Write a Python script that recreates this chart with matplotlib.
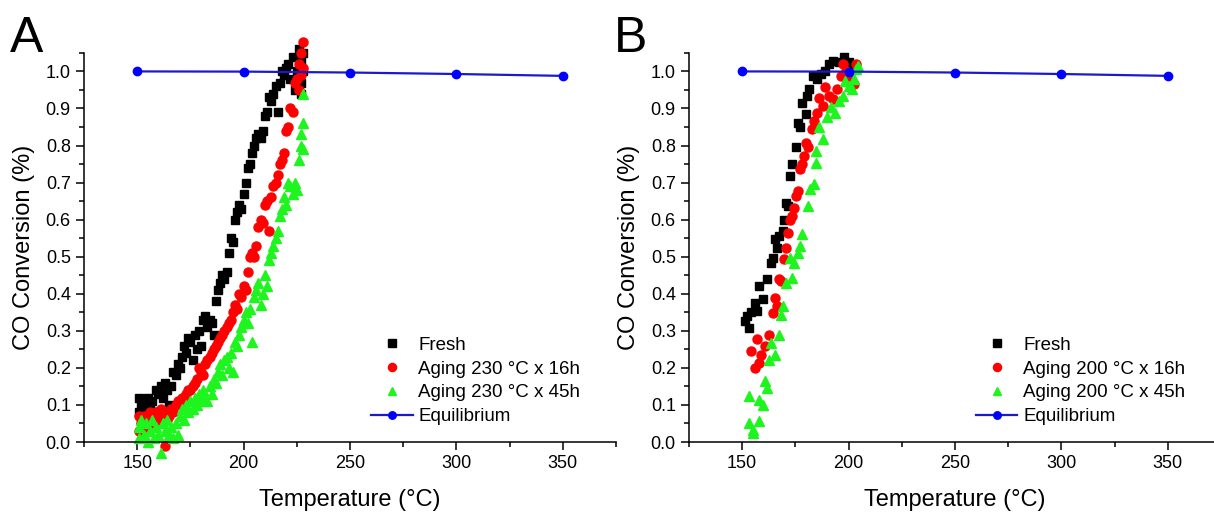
import matplotlib
matplotlib.use("Agg")
from matplotlib import pyplot as plt
from matplotlib.ticker import MultipleLocator

plt.rcParams['font.family'] = ['Liberation Sans', 'DejaVu Sans']

# equilibrium curve (same in both panels)
eq_temp = [150, 200, 250, 300, 350]
eq_conv = [1.0, 0.9995, 0.997, 0.993, 0.988]

# panel A
a_fresh_t = [151, 151, 152, 152, 153, 154, 155, 156, 157, 158, 159, 160, 161, 162, 163, 164, 165, 166,
             167, 168, 169, 170, 171, 172, 173, 174, 175, 176, 177, 178, 179, 180, 181, 182, 183, 184,
             185, 186, 187, 188, 189, 190, 191, 192, 193, 194, 195, 196, 197, 198, 199, 200, 201, 202,
             203, 204, 205, 206, 207, 208, 209, 210, 211, 212, 213, 214, 215, 216, 217, 218, 219, 220,
             221, 222, 223, 224, 225, 226, 227, 227, 227, 228, 228]
a_fresh_y = [0.12, 0.08, 0.10, 0.06, 0.11, 0.09, 0.12, 0.10, 0.11, 0.08, 0.14, 0.13, 0.15, 0.12, 0.16, 0.14, 0.10, 0.15,
             0.19, 0.18, 0.21, 0.20, 0.23, 0.26, 0.24, 0.28, 0.27, 0.22, 0.29, 0.25, 0.30, 0.26, 0.33, 0.34, 0.31, 0.33,
             0.32, 0.29, 0.38, 0.41, 0.43, 0.45, 0.44, 0.46, 0.51, 0.55, 0.54, 0.60, 0.62, 0.64, 0.63, 0.67, 0.70, 0.74,
             0.75, 0.78, 0.80, 0.82, 0.83, 0.82, 0.84, 0.88, 0.89, 0.93, 0.92, 0.94, 0.96, 0.89, 0.97, 1.00, 0.99, 1.01,
             1.02, 0.98, 1.04, 0.95, 1.00, 1.06, 0.97, 1.03, 0.94, 1.00, 1.05]
a_16h_t = [151, 151, 152, 153, 154, 155, 156, 157, 158, 159, 160, 161, 162, 163, 163, 164, 165, 166, 167, 168,
           169, 170, 171, 172, 173, 174, 175, 176, 177, 178, 179, 180, 181, 182, 183, 184, 185, 186, 187, 188,
           189, 190, 191, 192, 193, 194, 195, 196, 197, 198, 199, 200, 201, 202, 203, 204, 205, 206, 207, 208,
           209, 210, 211, 212, 213, 214, 215, 216, 217, 218, 219, 220, 221, 222, 223, 224, 225, 226, 226, 227,
           227, 228, 228]
a_16h_y = [0.07, 0.03, 0.05, 0.07, 0.04, 0.06, 0.08, 0.05, 0.07, 0.08, 0.06, 0.09, 0.07, -0.01, 0.08, 0.06, 0.07, 0.09, 0.08, 0.10,
           0.11, 0.10, 0.12, 0.11, 0.13, 0.14, 0.14, 0.15, 0.16, 0.17, 0.20, 0.19, 0.18, 0.21, 0.22, 0.23, 0.24, 0.25, 0.26, 0.27,
           0.28, 0.29, 0.30, 0.31, 0.32, 0.33, 0.35, 0.37, 0.36, 0.40, 0.39, 0.42, 0.41, 0.46, 0.50, 0.51, 0.50, 0.53, 0.58, 0.60,
           0.59, 0.64, 0.65, 0.57, 0.66, 0.69, 0.70, 0.72, 0.75, 0.76, 0.78, 0.84, 0.85, 0.90, 0.89, 0.97, 0.98, 1.02, 0.95, 1.05,
           0.99, 1.08, 1.01]
a_45h_t = [151, 151, 152, 153, 154, 155, 156, 157, 158, 159, 160, 161, 162, 163, 164, 165, 166, 167, 168, 169,
           170, 171, 172, 173, 174, 175, 176, 177, 178, 179, 180, 181, 182, 183, 184, 185, 186, 187, 188, 189,
           190, 191, 192, 193, 194, 195, 196, 197, 198, 199, 200, 201, 202, 203, 204, 205, 206, 207, 208, 209,
           210, 211, 212, 213, 214, 215, 216, 217, 218, 219, 220, 221, 222, 223, 224, 225, 226, 227, 227, 228,
           228, 228]
a_45h_y = [0.04, 0.01, 0.06, 0.02, 0.05, 0.00, 0.03, 0.06, 0.01, 0.04, 0.02, -0.03, 0.05, 0.03, 0.06, 0.02, 0.04, 0.01, 0.05, 0.02,
           0.07, 0.09, 0.06, 0.10, 0.08, 0.11, 0.09, 0.12, 0.10, 0.13, 0.11, 0.14, 0.12, 0.11, 0.15, 0.13, 0.17, 0.16, 0.19, 0.21,
           0.18, 0.22, 0.23, 0.20, 0.24, 0.19, 0.27, 0.26, 0.29, 0.31, 0.33, 0.35, 0.32, 0.36, 0.27, 0.39, 0.41, 0.43, 0.37, 0.40,
           0.45, 0.42, 0.49, 0.51, 0.53, 0.55, 0.57, 0.61, 0.63, 0.66, 0.64, 0.70, 0.69, 0.67, 0.70, 0.68, 0.76, 0.80, 0.83, 0.86,
           0.79, 0.94]

# panel B
b_fresh_t = [151.5, 152.4, 153.3, 154.2, 156.0, 157.0, 157.9, 159.8, 161.6, 163.5, 164.4, 165.3, 166.2, 167.2, 169.0,
             169.9, 170.8, 171.7, 172.6, 173.5, 175.3, 176.2, 177.1, 178.0, 179.8, 180.7, 181.6, 183.4, 185.3, 187.1,
             188.9, 190.7, 192.6, 195.4, 198.1, 200.0, 201.8]
b_fresh_y = [0.326, 0.34, 0.308, 0.35, 0.376, 0.353, 0.42, 0.385, 0.44, 0.484, 0.497, 0.547, 0.524, 0.556, 0.57,
             0.60, 0.646, 0.637, 0.717, 0.75, 0.795, 0.862, 0.849, 0.916, 0.885, 0.935, 0.952, 0.988, 0.98, 0.993,
             1.002, 1.02, 1.029, 1.025, 1.038, 1.025, 1.006]
b_16h_t = [154.2, 157.0, 156.0, 157.9, 158.9, 160.7, 162.5, 164.4, 165.3, 166.2, 167.2, 168.1, 169.9, 170.8, 171.7,
           172.6, 173.5, 174.5, 175.4, 176.3, 177.2, 178.1, 179.0, 180.0, 180.8, 182.7, 183.6, 185.4, 186.3, 188.2,
           189.1, 190.9, 192.7, 194.5, 196.3, 197.2, 199.0, 200.8, 202.7, 203.6]
b_16h_y = [0.245, 0.277, 0.20, 0.213, 0.236, 0.259, 0.29, 0.349, 0.389, 0.367, 0.439, 0.434, 0.493, 0.524, 0.565,
           0.60, 0.61, 0.632, 0.664, 0.677, 0.736, 0.75, 0.772, 0.808, 0.795, 0.844, 0.867, 0.889, 0.929, 0.908,
           0.957, 0.934, 0.925, 0.952, 0.988, 1.02, 1.002, 0.979, 0.965, 1.02]
b_45h_t = [153.3, 155.2, 155.0, 153.3, 157.9, 157.9, 159.8, 160.7, 161.6, 162.5, 163.5, 165.3, 167.2, 168.1, 169.0,
           170.8, 172.6, 173.5, 174.5, 176.3, 177.2, 178.1, 180.8, 181.7, 183.6, 184.5, 184.5, 186.3, 188.2, 190.0,
           191.8, 193.7, 195.5, 197.3, 198.2, 200.0, 201.8, 202.8, 203.7, 204.6]
b_45h_y = [0.051, 0.033, 0.024, 0.123, 0.114, 0.056, 0.10, 0.164, 0.146, 0.222, 0.268, 0.236, 0.29, 0.344, 0.367,
           0.43, 0.497, 0.443, 0.484, 0.511, 0.529, 0.56, 0.637, 0.682, 0.695, 0.754, 0.786, 0.849, 0.817, 0.876,
           0.903, 0.889, 0.92, 0.934, 0.975, 0.961, 0.952, 0.979, 1.006, 1.015]


def draw_panel(ax, fresh, h16, h45, label16, label45):
    ax.plot(fresh[0], fresh[1], ls='none', marker='s', ms=5.8, color='black', label='Fresh', clip_on=False)
    ax.plot(h16[0], h16[1], ls='none', marker='o', ms=6.5, color='#ff0000', label=label16, clip_on=False)
    ax.plot(h45[0], h45[1], ls='none', marker='^', ms=7, color='#1ef41e', label=label45, clip_on=False)
    ax.plot(eq_temp, eq_conv, color='#1a1acc', lw=1.6, marker='o', ms=6, mfc='#0000ff', mec='#0000ff',
            label='Equilibrium', clip_on=False)

    ax.set_xlim(125, 375)
    ax.set_ylim(0, 1.05)
    ax.xaxis.set_minor_locator(MultipleLocator(25))
    ax.yaxis.set_major_locator(MultipleLocator(0.1))
    ax.yaxis.set_minor_locator(MultipleLocator(0.05))
    ax.set_xticks([150, 200, 250, 300, 350])
    ax.spines['top'].set_visible(False)
    ax.spines['right'].set_visible(False)
    for s in ['left', 'bottom']:
        ax.spines[s].set_linewidth(1.1)
    ax.tick_params(which='major', direction='out', length=6, width=1.1, labelsize=13)
    ax.tick_params(which='minor', direction='out', length=3.5, width=1.1)
    ax.set_xlabel('Temperature (°C)', fontsize=17, labelpad=12)
    ax.set_ylabel('CO Conversion (%)', fontsize=17, labelpad=8)

    ax.legend(loc='center left', bbox_to_anchor=(0.54, 0.157), frameon=False, fontsize=13.5,
              borderpad=0, borderaxespad=0, handlelength=2.2, handletextpad=0.3, labelspacing=0.36,
              markerscale=0.9)


fig = plt.figure(figsize=(12.14, 5.12), dpi=100)
ax1 = fig.add_axes([0.0692, 0.1367, 0.4382, 0.76])
ax2 = fig.add_axes([0.5675, 0.1367, 0.4382, 0.76])

draw_panel(ax1, (a_fresh_t, a_fresh_y), (a_16h_t, a_16h_y), (a_45h_t, a_45h_y),
           'Aging 230 °C x 16h', 'Aging 230 °C x 45h')
draw_panel(ax2, (b_fresh_t, b_fresh_y), (b_16h_t, b_16h_y), (b_45h_t, b_45h_y),
           'Aging 200 °C x 16h', 'Aging 200 °C x 45h')

fig.text(0.008, 0.898, 'A', fontsize=36, va='baseline')
fig.text(0.506, 0.898, 'B', fontsize=36, va='baseline')

fig.savefig('out.png', dpi=100)
